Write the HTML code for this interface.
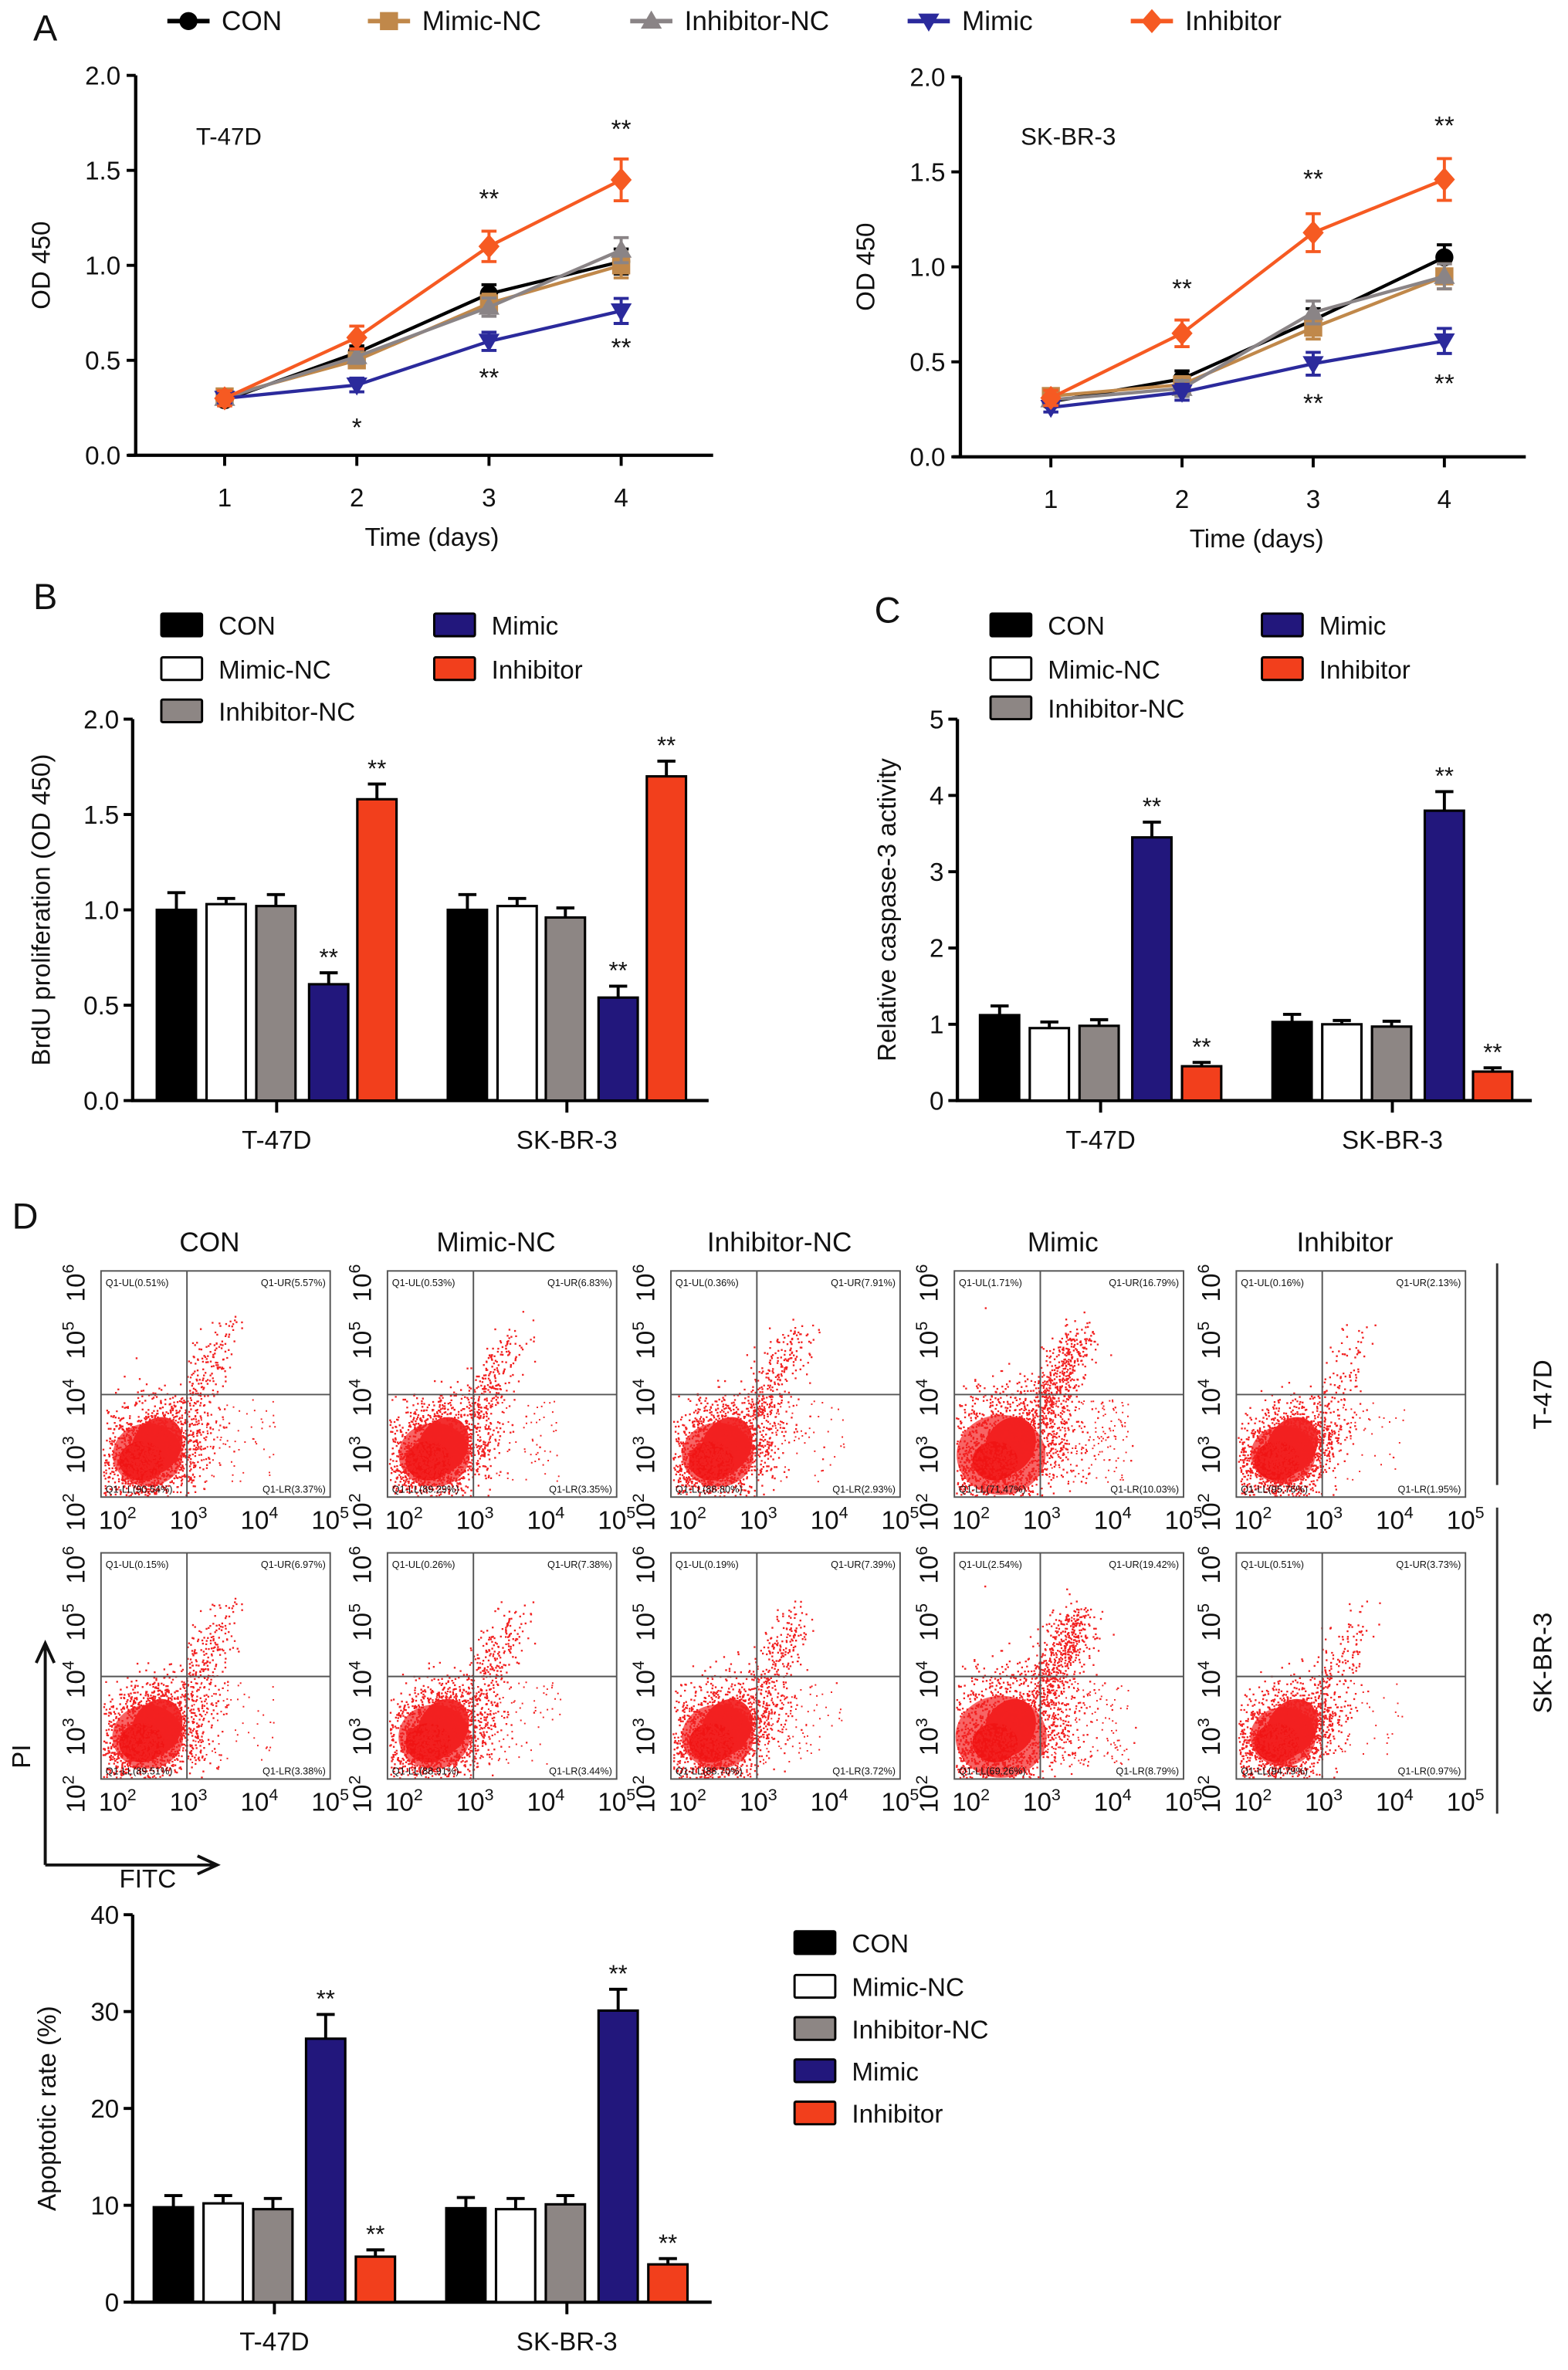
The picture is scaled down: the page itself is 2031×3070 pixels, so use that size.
<!DOCTYPE html>
<html><head><meta charset="utf-8"><style>
html,body{margin:0;padding:0;background:#fff;}
svg{display:block;font-family:"Liberation Sans Narrow","Liberation Sans",sans-serif;}
</style></head><body>
<svg id="fig" width="2031" height="3070" viewBox="0 0 1040 1572" preserveAspectRatio="none" xmlns="http://www.w3.org/2000/svg"></svg>
<script>
// ---------- Panel A data ----------
const days = [1, 2, 3, 4];
const groups = ["CON", "Mimic-NC", "Inhibitor-NC", "Mimic", "Inhibitor"];
const odTicks = ["0.0", "0.5", "1.0", "1.5", "2.0"];
const t47dCON = [0.29, 0.54, 0.85, 1.02];
const t47dMimicNC = [0.31, 0.50, 0.80, 1.00];
const t47dInhNC = [0.30, 0.52, 0.78, 1.08];
const t47dMimic = [0.30, 0.37, 0.60, 0.76];
const t47dInh = [0.30, 0.62, 1.10, 1.45];
const t47dErr = [0.04, 0.06, 0.08, 0.11];
const skCON = [0.29, 0.41, 0.72, 1.05];
const skMimicNC = [0.32, 0.38, 0.68, 0.95];
const skInhNC = [0.30, 0.36, 0.76, 0.95];
const skMimic = [0.26, 0.34, 0.49, 0.61];
const skInh = [0.31, 0.65, 1.18, 1.46];
const skErr = [0.04, 0.07, 0.10, 0.11];
// ---------- Panel B data ----------
const cells = ["T-47D", "SK-BR-3"];
const brduT47D = [1.00, 1.03, 1.02, 0.61, 1.58];
const brduSK = [1.00, 1.02, 0.96, 0.54, 1.70];
const brduErrT47D = [0.09, 0.03, 0.06, 0.06, 0.08];
const brduErrSK = [0.08, 0.04, 0.05, 0.06, 0.08];
// ---------- Panel C data ----------
const caspTicks = ["0", "1", "2", "3", "4", "5"];
const caspT47D = [1.12, 0.95, 0.98, 3.45, 0.45];
const caspSK = [1.03, 1.00, 0.97, 3.80, 0.38];
const caspErrT47D = [0.12, 0.08, 0.08, 0.20, 0.05];
const caspErrSK = [0.10, 0.05, 0.07, 0.25, 0.05];
// ---------- Panel D data ----------
const apoTicks = ["0", "10", "20", "30", "40"];
const apoT47D = [9.8, 10.2, 9.6, 27.2, 4.7];
const apoSK = [9.7, 9.6, 10.1, 30.1, 3.9];
const apoErrT47D = [1.2, 0.8, 1.1, 2.5, 0.7];
const apoErrSK = [1.1, 1.1, 0.9, 2.2, 0.6];
const flowT47D = [["0.51","5.57","90.54","3.37"],["0.53","6.83","89.29","3.35"],["0.36","7.91","88.80","2.93"],["1.71","16.79","71.47","10.03"],["0.16","2.13","95.76","1.95"]];
const flowSK = [["0.15","6.97","89.51","3.38"],["0.26","7.38","88.91","3.44"],["0.19","7.39","88.70","3.72"],["2.54","19.42","69.26","8.79"],["0.51","3.73","94.79","0.97"]];

const NS = "http://www.w3.org/2000/svg";
const svg = document.getElementById("fig");
function mk(tag, attrs, parent) {
  const e = document.createElementNS(NS, tag);
  for (const k in attrs) e.setAttribute(k, attrs[k]);
  (parent || svg).appendChild(e);
  return e;
}
function txt(x, y, s, size, anchor, parent, rot) {
  const t = mk("text", {x: x, y: y, "font-size": size, "text-anchor": anchor || "middle", fill: "#111"}, parent);
  if (rot) t.setAttribute("transform", "rotate(" + rot + " " + x + " " + y + ")");
  t.textContent = s;
  return t;
}
const barFill = ["#000000", "#ffffff", "#8d8684", "#22177c", "#f23f1c"];
const lineCol = ["#000000", "#c0884a", "#8a8486", "#2b2a9c", "#f65a22"];

let e;
e = txt(22, 27, "A", 24, "start");  
e = txt(22, 404, "B", 24, "start");  
e = txt(580, 413, "C", 24, "start");  
e = txt(8, 815, "D", 24, "start");  

function marker(g, i, x, y, c) {
  let m;
  if (i === 0) m = mk("circle", {cx: x, cy: y, r: 6, fill: c}, g);
  else if (i === 1) m = mk("rect", {x: x - 6, y: y - 6, width: 12, height: 12, fill: c}, g);
  else if (i === 2) m = mk("polygon", {points: (x) + "," + (y - 7) + " " + (x - 7) + "," + (y + 5) + " " + (x + 7) + "," + (y + 5), fill: c}, g);
  else if (i === 3) m = mk("polygon", {points: (x - 7) + "," + (y - 5) + " " + (x + 7) + "," + (y - 5) + " " + x + "," + (y + 7), fill: c}, g);
  else m = mk("polygon", {points: x + "," + (y - 8) + " " + (x + 7) + "," + y + " " + x + "," + (y + 8) + " " + (x - 7) + "," + y, fill: c}, g);
  return m;
}
const legA = mk("g", {});  
const legAX = [125, 258, 432, 616, 764];
groups.forEach((gName, i) => {
  const le = mk("g", {}, legA);
  
  
  mk("line", {x1: legAX[i] - 14, x2: legAX[i] + 14, y1: 14, y2: 14, stroke: lineCol[i], "stroke-width": 3}, le);
  marker(le, i, legAX[i], 14, lineCol[i]);
  txt(legAX[i] + 22, 20, gName, 18, "start", le);
});

function lineChart(name, ax, y0, yTop, xt, xEnd, series, err, label, stars) {
  const g = mk("g", {});  
  const ys = v => y0 - (v / 2.0) * (y0 - yTop);
  const xs = d => xt[0] + (d - 1) * (xt[3] - xt[0]) / 3;
  const axis = mk("path", {d: "M" + ax + "," + (yTop) + " V" + y0 + " M" + (ax - 5) + "," + y0 + " H" + xEnd, stroke: "#000", "stroke-width": 2.2, fill: "none"}, g);
   
  odTicks.forEach((t, k) => {
    const y = ys(+t);
    mk("line", {x1: ax - 6, x2: ax, y1: y, y2: y, stroke: "#000", "stroke-width": 2}, g);
    const tl = txt(ax - 10, y + 6, t, 17, "end", g);
     
  });
  days.forEach(d => {
    mk("line", {x1: xs(d), x2: xs(d), y1: y0, y2: y0 + 7, stroke: "#000", "stroke-width": 2}, g);
    const tl = txt(xs(d), y0 + 34, String(d), 17, "middle", g);
     
  });
  const xt1 = txt((xt[0] + xt[3]) / 2 + 6, y0 + 60, "Time (days)", 17, "middle", g);
   
  const yt = txt(ax - 57, (y0 + yTop) / 2, "OD 450", 17, "middle", g, -90);
   
  const cl = txt(ax + 40, 96, label, 16, "start", g);
   
  series.forEach((s, i) => {
    const sg = mk("g", {}, g);
    
    
    mk("polyline", {points: s.map((v, k) => xs(days[k]) + "," + ys(v)).join(" "), fill: "none", stroke: lineCol[i], "stroke-width": 2.2}, sg);
    s.forEach((v, k) => {
      const er = (i === 4 ? err[k] : err[k] * 0.6);
      mk("path", {d: "M" + xs(days[k]) + "," + ys(v - er) + " V" + ys(v + er) + " M" + (xs(days[k]) - 5) + "," + ys(v + er) + " h10 M" + (xs(days[k]) - 5) + "," + ys(v - er) + " h10", stroke: lineCol[i], "stroke-width": 2, fill: "none"}, sg);
      const p = marker(sg, i, xs(days[k]), ys(v), lineCol[i]);
      
      
    });
  });
  stars.forEach(st => {
    const s = txt(xs(st[0]), ys(st[1]) + st[2], st[3], 17, "middle", g);
     
  });
}
lineChart("chart-a-t47d", 90, 302, 50, [149, 235, 325, 412], 473,
  [t47dCON, t47dMimicNC, t47dInhNC, t47dMimic, t47dInh], t47dErr, "T-47D",
  [[2, t47dMimic[1], 34, "*"], [3, t47dInh[2], -26, "**"], [3, t47dMimic[2], 30, "**"], [4, t47dInh[3], -28, "**"], [4, t47dMimic[3], 30, "**"]]);
lineChart("chart-a-skbr3", 637, 303, 51, [697, 783, 872, 958], 1012,
  [skCON, skMimicNC, skInhNC, skMimic, skInh], skErr, "SK-BR-3",
  [[2, skInh[1], -24, "**"], [3, skInh[2], -30, "**"], [3, skMimic[2], 32, "**"], [4, skInh[3], -30, "**"], [4, skMimic[3], 34, "**"]]);

function barLegend(name, xs, ys) {
  const g = mk("g", {});  
  groups.forEach((gn, i) => {
    const le = mk("g", {}, g);
    
    
    mk("rect", {x: xs[i], y: ys[i] - 7, width: 27, height: 15, fill: barFill[i], stroke: "#000", "stroke-width": 1.5, rx: 1}, le);
    txt(xs[i] + 38, ys[i] + 7, gn, 17, "start", le);
  });
}
function barChart(name, ax, y0, yTop, xEnd, max, ticks, barX, data, errs, yTitle, yTitleX, starMask) {
  const g = mk("g", {});  
  const ys = v => y0 - (v / max) * (y0 - yTop);
  const axis = mk("path", {d: "M" + ax + "," + yTop + " V" + y0 + " H" + xEnd, stroke: "#000", "stroke-width": 2.2, fill: "none"}, g);
   
  ticks.forEach(t => {
    const y = ys(+t);
    mk("line", {x1: ax - 6, x2: ax, y1: y, y2: y, stroke: "#000", "stroke-width": 2}, g);
    const tl = txt(ax - 9, y + 6, t, 17, "end", g);
     
  });
  const yt = txt(yTitleX, (y0 + yTop) / 2, yTitle, 17, "middle", g, -90);
   
  cells.forEach((c, ci) => {
    const cx = (barX[ci][0] + barX[ci][4] + 26) / 2;
    mk("line", {x1: cx, x2: cx, y1: y0, y2: y0 + 8, stroke: "#000", "stroke-width": 2}, g);
    const cl = txt(cx, y0 + 32, c, 17, "middle", g);
     
    data[ci].forEach((v, i) => {
      const bx = barX[ci][i], er = errs[ci][i];
      const eb = mk("path", {d: "M" + (bx + 13) + "," + ys(v) + " V" + ys(v + er) + " M" + (bx + 7) + "," + ys(v + er) + " h12", stroke: "#000", "stroke-width": 2, fill: "none"}, g);
       
      const b = mk("rect", {x: bx, y: ys(v), width: 26, height: y0 - ys(v), fill: barFill[i], stroke: "#000", "stroke-width": 1.6}, g);
      
      
      if (starMask[i]) {
        const s = txt(bx + 13, ys(v + er) - 5, "**", 16, "middle", g);
         
      }
    });
  });
}
const stars = [0, 0, 0, 1, 1];
barLegend("legend-b", [107, 107, 107, 288, 288], [414, 443, 471, 414, 443]);
barChart("chart-b-brdu", 88, 730, 477, 470, 2.0, odTicks, [[104, 137, 170, 205, 237], [297, 330, 362, 397, 429]], [brduT47D, brduSK], [brduErrT47D, brduErrSK], "BrdU proliferation (OD 450)", 33, stars);
barLegend("legend-c", [657, 657, 657, 837, 837], [414, 443, 469, 414, 443]);
barChart("chart-c-caspase", 635, 730, 477, 1016, 5, caspTicks, [[650, 683, 716, 751, 784], [844, 877, 910, 945, 977]], [caspT47D, caspSK], [caspErrT47D, caspErrSK], "Relative caspase-3 activity", 594, stars);
barLegend("legend-d", [527, 527, 527, 527, 527], [1288, 1317, 1345, 1373, 1401]);
barChart("chart-d-apoptosis", 88, 1527, 1270, 472, 40, apoTicks, [[102, 135, 168, 203, 236], [296, 329, 362, 397, 430]], [apoT47D, apoSK], [apoErrT47D, apoErrSK], "Apoptotic rate (%)", 37, stars);

// ---------- Flow cytometry panels ----------
let seed = 12345;
function rnd() { seed = (seed * 1103515245 + 12345) % 2147483648; return seed / 2147483648; }
function gauss() { return Math.sqrt(-2 * Math.log(rnd() + 1e-9)) * Math.cos(2 * Math.PI * rnd()); }
const colX = [67, 257, 445, 633, 820];
const rowY = [843, 1030];
const W = 152, H = 150;
groups.forEach((gn, ci) => {
  const h = txt(colX[ci] + 72, 830, gn, 18, "middle");
   
});
[flowT47D, flowSK].forEach((rowData, ri) => {
  rowData.forEach((q, ci) => {
    const x0 = colX[ci], y0 = rowY[ri];
    const g = mk("g", {});
    
    
    const qx = x0 + 57, qy = y0 + 82;
    const spread = 1 + (100 - +q[2]) / 60;
    let path = "";
    const nMain = 1800, nUR = Math.round(+q[1] * 22) + 40, nLR = Math.round(+q[3] * 14) + 15;
    for (let k = 0; k < nMain; k++) {
      const px = qx - 24 + gauss() * 15 * spread, py = qy + 38 + gauss() * 14 * spread - (px - (qx - 24)) * 0.25;
      if (px > x0 + 1 && px < x0 + W && py < y0 + H - 1 && py > y0) path += "M" + px.toFixed(1) + "," + py.toFixed(1) + "h1.2v1.2h-1.2z";
    }
    for (let k = 0; k < nUR; k++) {
      const t = rnd();
      const px = qx + 2 + t * 24 + gauss() * 7, py = qy + 8 - t * 48 + gauss() * 8;
      path += "M" + px.toFixed(1) + "," + py.toFixed(1) + "h1.2v1.2h-1.2z";
    }
    for (let k = 0; k < nLR; k++) {
      const px = qx + 3 + rnd() * 55, py = qy + 3 + rnd() * 55;
      path += "M" + px.toFixed(1) + "," + py.toFixed(1) + "h1v1h-1z";
    }
    mk("ellipse", {cx: qx - 26, cy: qy + 40, rx: 20 * spread, ry: 18 * spread, fill: "#f43030", opacity: 0.75}, g);
    mk("ellipse", {cx: qx - 20, cy: qy + 34, rx: 16, ry: 20, fill: "#f21818", opacity: 0.9, transform: "rotate(30 " + (qx - 20) + " " + (qy + 34) + ")"}, g);
    mk("ellipse", {cx: qx - 30, cy: qy + 44, rx: 15, ry: 13, fill: "#f01414"}, g);
    mk("path", {d: path, fill: "#f22020"}, g);
    const box = mk("rect", {x: x0, y: y0, width: W, height: H, fill: "none", stroke: "#555", "stroke-width": 1}, g);
     
    mk("line", {x1: qx, x2: qx, y1: y0, y2: y0 + H, stroke: "#555", "stroke-width": 1}, g);
    mk("line", {x1: x0, x2: x0 + W, y1: qy, y2: qy, stroke: "#555", "stroke-width": 1}, g);
    txt(x0 + 3, y0 + 10, "Q1-UL(" + q[0] + "%)", 6.5, "start", g);
    txt(x0 + W - 3, y0 + 10, "Q1-UR(" + q[1] + "%)", 6.5, "end", g);
    txt(x0 + 3, y0 + H - 3, "Q1-LL(" + q[2] + "%)", 6.5, "start", g);
    txt(x0 + W - 3, y0 + H - 3, "Q1-LR(" + q[3] + "%)", 6.5, "end", g);
    ["2", "3", "4", "5"].forEach((ex, k) => {
      const tx = x0 + 11 + k * 47;
      const t = mk("text", {x: tx, y: y0 + H + 21, "font-size": 17, "text-anchor": "middle", fill: "#111"}, g);
      t.innerHTML = '10<tspan dy="-7" font-size="11">' + ex + '</tspan>';
       
    });
    ["2", "3", "4", "5", "6"].forEach((ex, k) => {
      const ty = y0 + H + 10 - k * 38;
      const lx = x0 - 11;
      const t = mk("text", {x: lx, y: ty, "font-size": 17, "text-anchor": "middle", fill: "#111", transform: "rotate(-90 " + lx + " " + ty + ")"}, g);
      t.innerHTML = '10<tspan dy="-7" font-size="11">' + ex + '</tspan>';
       
    });
  });
});
e = mk("line", {x1: 993, x2: 993, y1: 838, y2: 985, stroke: "#333", "stroke-width": 1.5});  
e = mk("line", {x1: 993, x2: 993, y1: 1000, y2: 1203, stroke: "#333", "stroke-width": 1.5});  
e = txt(1029, 925, "T-47D", 17, "middle", null, -90);  
e = txt(1029, 1103, "SK-BR-3", 17, "middle", null, -90);  
e = mk("path", {d: "M30,1237 V1092 M24,1103 L30,1090 L36,1103 M30,1237 H142 M131,1231 L144,1237 L131,1243", stroke: "#111", "stroke-width": 2, fill: "none"});  
e = txt(20, 1165, "PI", 17, "middle", null, -90);  
e = txt(98, 1252, "FITC", 17, "middle");  
</script>
</body></html>
